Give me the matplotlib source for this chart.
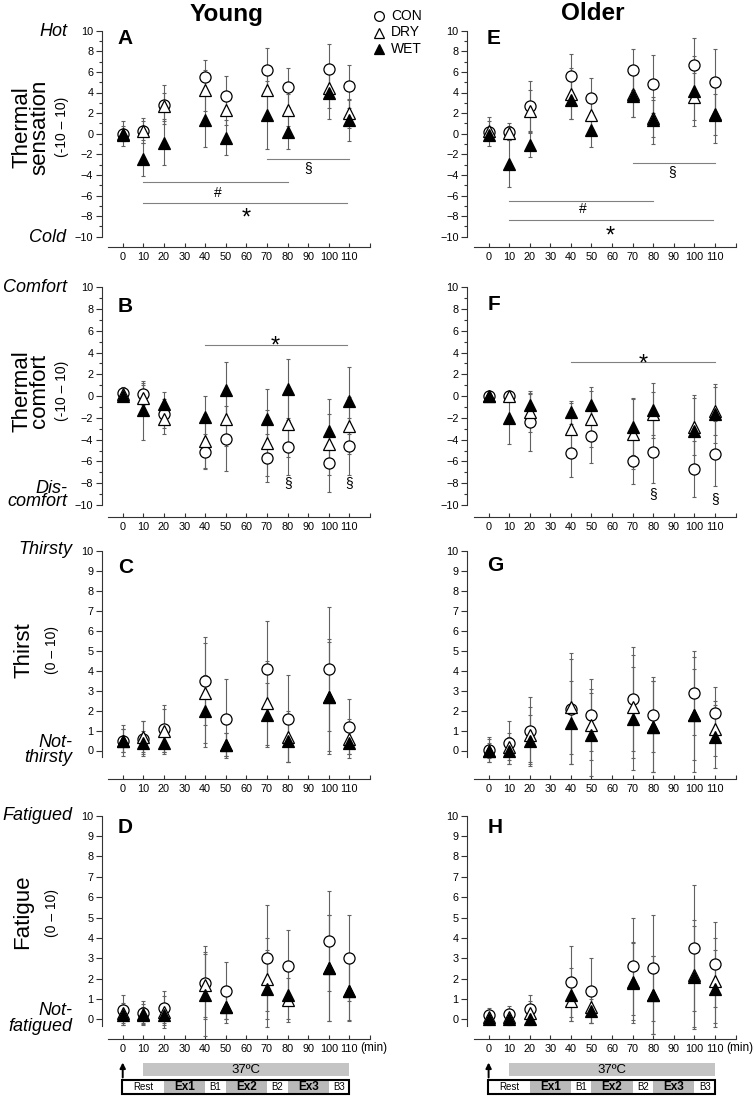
import matplotlib
matplotlib.use('Agg')
import matplotlib.pyplot as plt
from matplotlib.lines import Line2D
from matplotlib.patches import Rectangle
from matplotlib.ticker import FixedLocator

plt.rcParams['font.family'] = ['Liberation Sans', 'DejaVu Sans']

W, H = 754, 1096

# ---------------- data ----------------
times = [0, 10, 20, 40, 50, 70, 80, 100, 110]
x_ticks = [0, 10, 20, 30, 40, 50, 60, 70, 80, 90, 100, 110, 120]
x_tick_labels = ['0', '10', '20', '30', '40', '50', '60', '70', '80', '90', '100', '110', '']
groups = ['CON', 'DRY', 'WET']
column_titles = ['Young', 'Older']

# Young - thermal sensation (A)
A_con = [0.0, 0.3, 2.8, 5.5, 3.7, 6.2, 4.5, 6.3, 4.6]
A_con_sd = [1.2, 1.2, 1.9, 1.7, 1.9, 2.1, 1.9, 2.4, 2.1]
A_dry = [0.0, 0.3, 2.7, 4.2, 2.3, 4.2, 2.3, 4.4, 2.0]
A_dry_sd = [0.7, 0.9, 1.3, 2.0, 1.5, 2.4, 1.6, 1.9, 1.4]
A_wet = [-0.1, -2.5, -0.9, 1.3, -0.4, 1.8, 0.2, 4.0, 1.3]
A_wet_sd = [0.6, 1.6, 2.1, 2.6, 1.7, 3.3, 1.7, 2.6, 2.0]

# Young - thermal comfort (B)
B_con = [0.3, 0.2, -1.6, -5.1, -3.9, -5.7, -4.7, -6.1, -4.6]
B_con_sd = [0.5, 1.0, 1.3, 1.6, 3.0, 2.2, 2.5, 2.7, 2.6]
B_dry = [0.2, -0.2, -2.1, -4.1, -2.1, -4.3, -2.6, -4.4, -2.7]
B_dry_sd = [0.5, 1.2, 1.4, 2.5, 2.5, 3.0, 3.0, 2.8, 2.6]
B_wet = [0.0, -1.3, -0.7, -1.9, 0.6, -2.1, 0.7, -3.2, -0.4]
B_wet_sd = [0.4, 2.7, 1.1, 1.9, 2.5, 2.8, 2.7, 2.9, 3.1]

# Young - thirst (C)
C_con = [0.5, 0.6, 1.1, 3.5, 1.6, 4.1, 1.6, 4.1, 1.2]
C_con_sd = [0.8, 0.9, 1.2, 2.2, 2.0, 2.4, 2.2, 3.1, 1.4]
C_dry = [0.5, 0.7, 1.0, 2.9, 0.3, 2.4, 0.7, 2.7, 0.6]
C_dry_sd = [0.6, 0.8, 1.1, 2.5, 0.6, 2.1, 1.3, 2.9, 1.0]
C_wet = [0.5, 0.4, 0.4, 2.0, 0.3, 1.8, 0.5, 2.7, 0.4]
C_wet_sd = [0.6, 0.6, 0.6, 1.8, 0.6, 1.6, 1.1, 2.75, 0.6]

# Young - fatigue (D)
D_con = [0.45, 0.3, 0.55, 1.8, 1.4, 3.0, 2.6, 3.85, 3.0]
D_con_sd = [0.75, 0.6, 0.85, 1.8, 1.4, 2.6, 1.8, 2.45, 2.1]
D_dry = [0.3, 0.25, 0.35, 1.7, 0.6, 2.0, 0.95, 2.5, 1.4]
D_dry_sd = [0.5, 0.5, 0.8, 1.6, 0.8, 2.0, 1.1, 2.6, 1.5]
D_wet = [0.2, 0.2, 0.2, 1.2, 0.6, 1.5, 1.2, 2.5, 1.4]
D_wet_sd = [0.5, 0.4, 0.4, 2.0, 0.6, 1.9, 1.2, 2.6, 1.45]

# Older - thermal sensation (E)
E_con = [0.2, 0.2, 2.7, 5.6, 3.5, 6.2, 4.8, 6.7, 5.0]
E_con_sd = [1.4, 0.8, 2.4, 2.1, 1.9, 2.0, 2.8, 2.6, 3.2]
E_dry = [0.3, 0.1, 2.2, 3.9, 1.8, 3.9, 1.5, 3.6, 1.9]
E_dry_sd = [0.9, 0.6, 2.0, 2.5, 1.7, 2.3, 1.8, 2.3, 2.0]
E_wet = [-0.1, -2.9, -1.1, 3.3, 0.4, 3.7, 1.3, 4.1, 1.8]
E_wet_sd = [0.5, 2.3, 1.2, 1.9, 1.7, 2.1, 2.3, 3.4, 2.7]

# Older - thermal comfort (F)
F_con = [0.0, 0.0, -2.4, -5.2, -3.7, -6.0, -5.1, -6.7, -5.3]
F_con_sd = [0.3, 0.4, 2.6, 2.2, 2.4, 2.1, 2.9, 2.6, 3.0]
F_dry = [0.0, 0.0, -1.5, -3.0, -2.1, -3.5, -1.6, -2.8, -1.4]
F_dry_sd = [0.3, 0.5, 1.8, 2.4, 2.6, 3.2, 2.0, 2.6, 2.2]
F_wet = [0.0, -2.0, -0.8, -1.5, -0.8, -2.8, -1.3, -3.2, -1.6]
F_wet_sd = [0.3, 2.4, 1.3, 1.1, 1.6, 2.6, 2.5, 3.3, 2.7]

# Older - thirst (G)
G_con = [0.05, 0.4, 1.0, 2.1, 1.8, 2.6, 1.8, 2.9, 1.9]
G_con_sd = [0.65, 1.1, 1.7, 2.8, 1.8, 2.6, 1.9, 2.1, 1.3]
G_dry = [0.0, 0.2, 0.8, 2.2, 1.3, 2.2, 1.2, 1.8, 1.1]
G_dry_sd = [0.4, 0.7, 1.4, 2.4, 1.8, 2.6, 2.3, 2.3, 1.4]
G_wet = [0.0, 0.0, 0.5, 1.4, 0.8, 1.6, 1.2, 1.8, 0.7]
G_wet_sd = [0.6, 0.7, 1.3, 2.1, 2.1, 2.6, 2.3, 2.9, 1.6]

# Older - fatigue (H)
H_con = [0.2, 0.25, 0.5, 1.85, 1.4, 2.6, 2.5, 3.5, 2.7]
H_con_sd = [0.35, 0.4, 0.7, 1.75, 1.6, 2.4, 2.6, 3.1, 2.1]
H_dry = [0.1, 0.1, 0.3, 0.9, 0.6, 1.8, 1.2, 2.2, 1.9]
H_dry_sd = [0.3, 0.4, 0.6, 1.0, 0.8, 2.0, 1.9, 2.7, 2.1]
H_wet = [0.0, 0.0, 0.0, 1.2, 0.4, 1.85, 1.2, 2.1, 1.5]
H_wet_sd = [0.3, 0.3, 0.3, 1.3, 0.6, 1.9, 1.9, 2.5, 1.9]

# significance bars (x start, x end, y) and symbols (symbol, x, y)
sig_lines = {
    'A': [(70, 110, -2.5), (10, 80, -4.7), (10, 109, -6.7)],
    'E': [(70, 110, -2.8), (10, 80, -6.5), (10, 109, -8.4)],
    'B': [(40, 109, 4.7)],
    'F': [(40, 110, 3.1)],
}
sig_marks = {
    'A': [('§', 90, -3.4), ('#', 46, -5.7), ('*', 60, -7.5)],
    'E': [('§', 89, -3.7), ('#', 46, -7.25), ('*', 59, -9.2)],
    'B': [('*', 74, 5.3), ('§', 80, -8.0), ('§', 110, -8.0)],
    'F': [('*', 75, 3.6), ('§', 80, -9.0), ('§', 110, -9.45)],
}

# protocol timeline
segments = ['Rest', 'Ex1', 'B1', 'Ex2', 'B2', 'Ex3', 'B3']
seg_start = [0, 20, 40, 50, 70, 80, 100]
seg_end = [20, 40, 50, 70, 80, 100, 110]
heat_start, heat_end = 10, 110
heat_label = '37ºC'

# ---------------- layout helpers ----------------
fig = plt.figure(figsize=(W / 100, H / 100), dpi=100)


def rect(l, t, r, b):
    return [l / W, 1 - b / H, (r - l) / W, (b - t) / H]


def ftext(x, y, s, **kw):
    return fig.text(x / W, 1 - y / H, s, **kw)


col_geom = {'L': (101.7, 370.0, -10.2, 120.0), 'R': (467.0, 735.5, -10.5, 120.0)}
# px of y=10, px of low value, low value, px of x-axis line, top y value
row_geom = {
    'sens': (30.7, 236.7, -10, 247.0, 10.6),
    'comf': (287.3, 505.0, -10, 516.7, 10.6),
    'thirst': (551.0, 750.5, 0, 779.0, 10.25),
    'fat': (815.7, 1019.3, 0, 1039.0, 10.25),
}

panels = [
    ('A', 'L', 'sens', A_con, A_con_sd, A_dry, A_dry_sd, A_wet, A_wet_sd),
    ('B', 'L', 'comf', B_con, B_con_sd, B_dry, B_dry_sd, B_wet, B_wet_sd),
    ('C', 'L', 'thirst', C_con, C_con_sd, C_dry, C_dry_sd, C_wet, C_wet_sd),
    ('D', 'L', 'fat', D_con, D_con_sd, D_dry, D_dry_sd, D_wet, D_wet_sd),
    ('E', 'R', 'sens', E_con, E_con_sd, E_dry, E_dry_sd, E_wet, E_wet_sd),
    ('F', 'R', 'comf', F_con, F_con_sd, F_dry, F_dry_sd, F_wet, F_wet_sd),
    ('G', 'R', 'thirst', G_con, G_con_sd, G_dry, G_dry_sd, G_wet, G_wet_sd),
    ('H', 'R', 'fat', H_con, H_con_sd, H_dry, H_dry_sd, H_wet, H_wet_sd),
]

letter_pos = {'A': (125, 38), 'B': (125, 306), 'C': (125.5, 567.5), 'D': (125.5, 827.5),
              'E': (494, 38.5), 'F': (493.5, 304.5), 'G': (495.5, 565.5), 'H': (495, 827.5)}

# glyph centre offsets (fraction of font size) for baseline-aligned symbols
sym_center = {'*': 0.59, '#': 0.35, '§': 0.27}
sym_size = {'*': 17, '#': 10, '§': 10}

spine_c = '0.2'
err_c = '0.38'

axes = {}
for name, col, row, con, con_sd, dry, dry_sd, wet, wet_sd in panels:
    l, r, x0, x1 = col_geom[col]
    p10, plow, vlow, pax, yhi = row_geom[row]
    scale = (plow - p10) / (10 - vlow)
    ylo = vlow - (pax - plow) / scale
    top = p10 - (yhi - 10) * scale
    ax = fig.add_axes(rect(l, top, r, pax))
    axes[name] = ax
    ax.set_xlim(x0, x1)
    ax.set_ylim(ylo, yhi)
    ax.patch.set_alpha(0)
    for s in ('top', 'right'):
        ax.spines[s].set_visible(False)
    for s in ('left', 'bottom'):
        ax.spines[s].set_color(spine_c)
        ax.spines[s].set_linewidth(0.8)
    ax.spines['bottom'].set_bounds(-7, 120)
    if row in ('sens', 'comf'):
        ax.spines['left'].set_bounds(-10, 10)
        ax.set_yticks(range(-10, 11, 2))
        ax.yaxis.set_minor_locator(FixedLocator(range(-9, 10, 2)))
    else:
        ax.spines['left'].set_bounds(-0.35, 10)
        ax.set_yticks(range(0, 11))
    ax.set_xticks(x_ticks)
    ax.set_xticklabels(x_tick_labels)
    ax.tick_params(axis='x', direction='in', length=3, width=0.8, color=spine_c,
                   labelsize=7.8, pad=3.5)
    ax.tick_params(axis='y', which='major', direction='out', length=4, width=0.8,
                   color=spine_c, labelsize=7.8, pad=2)
    ax.tick_params(axis='y', which='minor', direction='out', length=2.5, width=0.8,
                   color=spine_c)

    ekw = dict(fmt='none', ecolor=err_c, elinewidth=0.8, capsize=1.3, capthick=0.8, zorder=2)
    ax.errorbar(times, con, yerr=con_sd, **ekw)
    ax.errorbar(times, dry, yerr=dry_sd, **ekw)
    ax.errorbar(times, wet, yerr=wet_sd, **ekw)
    ax.plot(times, con, linestyle='none', marker='o', ms=8, mfc='white', mec='black',
            mew=0.9, zorder=3, clip_on=False)
    ax.plot(times, dry, linestyle='none', marker='^', ms=8.3, mfc='white', mec='black',
            mew=0.9, zorder=4, clip_on=False)
    ax.plot(times, wet, linestyle='none', marker='^', ms=8.3, mfc='black', mec='black',
            mew=0.9, zorder=5, clip_on=False)

    for xa, xb, y in sig_lines.get(name, []):
        ax.plot([xa, xb], [y, y], color='0.5', lw=0.8, zorder=1)
    for sym, xs, ys in sig_marks.get(name, []):
        fs = sym_size[sym]
        ax.annotate(sym, xy=(xs, ys), xytext=(0, -sym_center[sym] * fs),
                    textcoords='offset points', ha='center', va='baseline',
                    fontsize=fs, color='black')

    lx, ly = letter_pos[name]
    ftext(lx, ly, name, ha='center', va='center', fontsize=15, fontweight='bold')

# column titles
ftext(227, 14, column_titles[0], ha='center', va='center', fontsize=17.5, fontweight='bold')
ftext(593, 14, column_titles[1], ha='center', va='center', fontsize=17.5, fontweight='bold')

# legend
leg_y = [16, 32.5, 49]
leg_style = [dict(marker='o', mfc='white'), dict(marker='^', mfc='white'),
             dict(marker='^', mfc='black')]
for g, yy, st in zip(groups, leg_y, leg_style):
    fig.add_artist(Line2D([379 / W], [1 - yy / H], transform=fig.transFigure, linestyle='none',
                          ms=7, mec='black', mew=0.9, **st))
    ftext(391, yy, g, ha='left', va='center', fontsize=10)

# y-axis labels (main title of the scale + range)
ylab = [
    ('Thermal\nsensation', 31, 127), ('Thermal\ncomfort', 31, 391),
    ('Thirst', 24, 650), ('Fatigue', 23, 912),
]
for s, x, y in ylab:
    ftext(x, y, s, rotation=90, ha='center', va='center', fontsize=16,
          linespacing=0.78, multialignment='center')
yrange = [('(-10 – 10)', 62, 127), ('(-10 – 10)', 62, 391),
          ('(0 – 10)', 52, 650), ('(0 – 10)', 52, 913)]
for s, x, y in yrange:
    ftext(x, y, s, rotation=90, ha='center', va='center', fontsize=10)

# italic anchors
anchors = [
    ('Hot', 67, 31, 1.0), ('Cold', 66, 237, 1.0),
    ('Comfort', 67, 287, 1.0), ('Dis-\ncomfort', 67, 495, 0.72),
    ('Thirsty', 72, 550, 1.0), ('Not-\nthirsty', 72, 750, 0.8),
    ('Fatigued', 72, 815, 1.0), ('Not-\nfatigued', 72, 1018.5, 0.92),
]
for s, x, y, ls in anchors:
    ftext(x, y, s, ha='right', va='center', fontsize=13, style='italic',
          linespacing=ls, multialignment='right')

# (min) labels
ftext(360, 1048, '(min)', ha='left', va='center', fontsize=8.5)
ftext(726, 1048, '(min)', ha='left', va='center', fontsize=8.5)

# protocol timelines
for col in ('L', 'R'):
    l, r, x0, x1 = col_geom[col]
    tax = fig.add_axes(rect(l, 1056, r, 1096))
    tax.set_xlim(x0, x1)
    tax.set_ylim(1096, 1056)
    tax.axis('off')
    tax.annotate('', xy=(0, 1062.5), xytext=(0, 1077.5),
                 arrowprops=dict(arrowstyle='-|>', color='black', lw=1.4,
                                 mutation_scale=8, shrinkA=0, shrinkB=0))
    tax.add_patch(Rectangle((heat_start, 1063), heat_end - heat_start, 13,
                            facecolor='#c4c4c4', edgecolor='none'))
    tax.text((heat_start + heat_end) / 2, 1069.8, heat_label, ha='center', va='center',
             fontsize=9.5)
    for i, (sname, s0, s1) in enumerate(zip(segments, seg_start, seg_end)):
        ex = sname.startswith('Ex')
        tax.add_patch(Rectangle((s0, 1079.5), s1 - s0, 14.5,
                                facecolor='#b9b9b9' if ex else 'white', edgecolor='none'))
        tax.text((s0 + s1) / 2, 1087, sname, ha='center', va='center',
                 fontsize=8.5 if ex else 7, fontweight='bold' if ex else 'normal')
    tax.add_patch(Rectangle((seg_start[0] - 0.5, 1079.5), seg_end[-1] - seg_start[0] + 0.5, 14.5,
                            fill=False, edgecolor='black', lw=1.5))

fig.savefig('out.png', dpi=100)
